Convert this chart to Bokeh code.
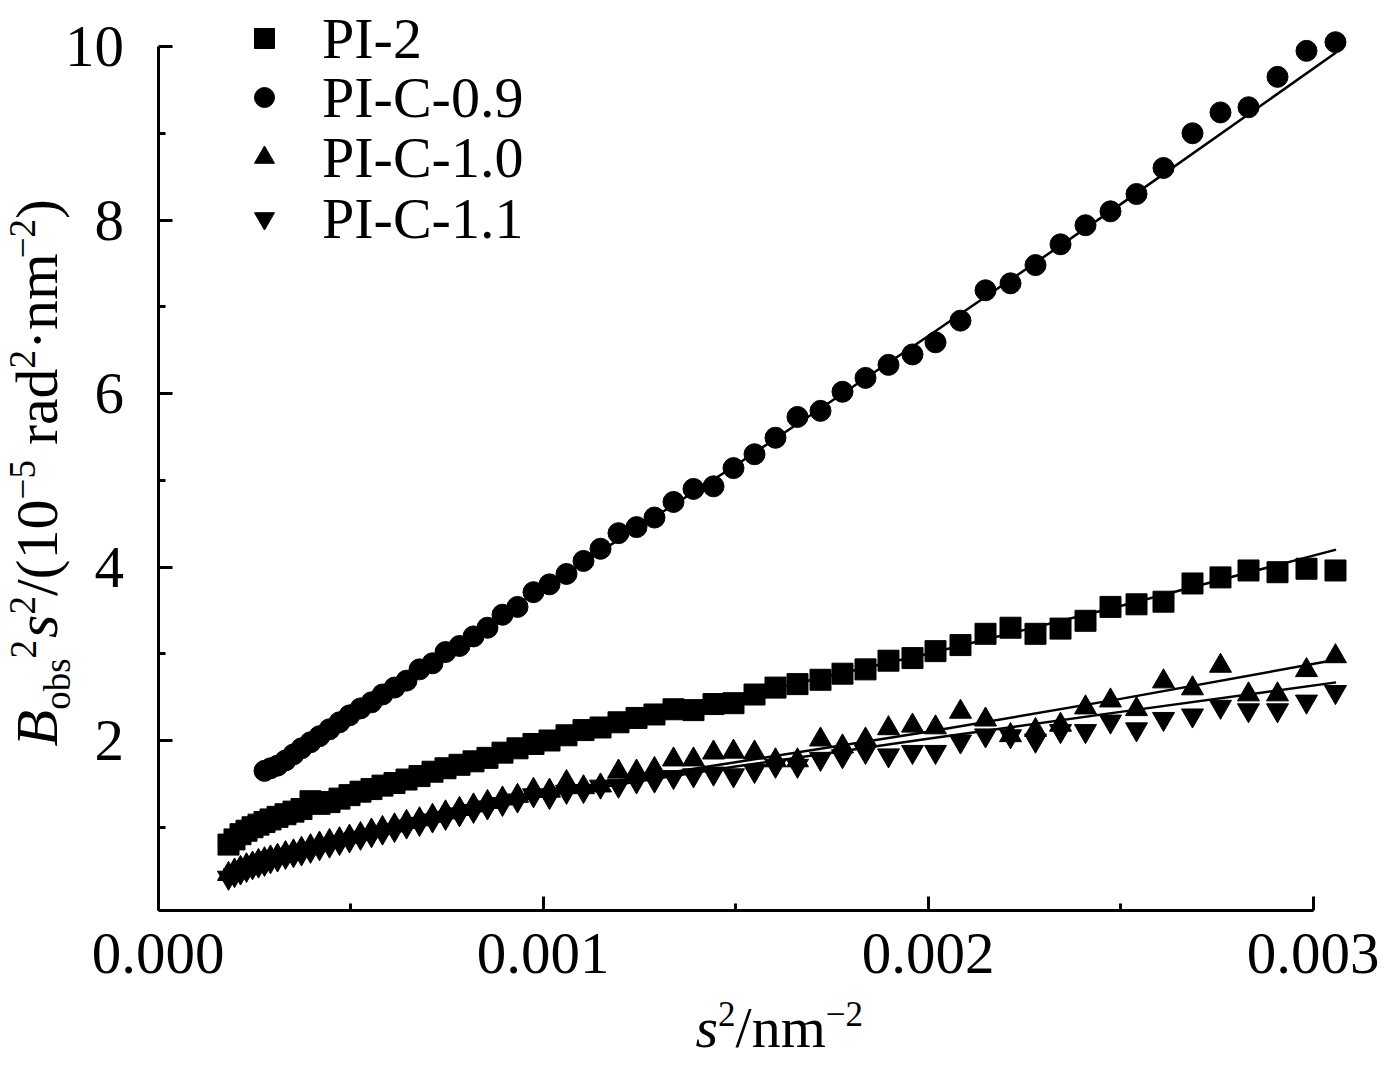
import math
from bokeh.plotting import figure
from bokeh.models import (Range1d, FixedTicker, PrintfTickFormatter, Label, Legend,
                          LegendItem, LinearAxis)
from bokeh.embed import file_html
from bokeh.resources import INLINE

# ---------------- data ----------------
s2 = [0.0001831, 0.0001987, 0.0002143, 0.0002299, 0.0002455, 0.0002610, 0.0002766, 0.0002922,
      0.0003104, 0.0003312, 0.0003519, 0.0003727, 0.0003961, 0.0004195, 0.0004455, 0.0004714,
      0.0004974, 0.0005260, 0.0005545, 0.0005831, 0.0006143, 0.0006455, 0.0006792, 0.0007130,
      0.0007468, 0.0007831, 0.0008195, 0.0008558, 0.0008948, 0.0009338, 0.0009753, 0.0010169,
      0.0010610, 0.0011052, 0.0011494, 0.0011961, 0.0012429, 0.0012896, 0.0013390, 0.0013909,
      0.0014429, 0.0014948, 0.0015494, 0.0016039, 0.0016610, 0.0017208, 0.0017779, 0.0018377,
      0.0018974, 0.0019597, 0.0020195, 0.0020844, 0.0021494, 0.0022143, 0.0022792, 0.0023442,
      0.0024091, 0.0024740, 0.0025416, 0.0026117, 0.0026870, 0.0027597, 0.0028325, 0.0029078,
      0.0029831, 0.0030584]

s2_c09 = [0.0002766, 0.0002922, 0.0003104, 0.0003312, 0.0003519, 0.0003727, 0.0003961, 0.0004195,
          0.0004455, 0.0004714, 0.0004974, 0.0005260, 0.0005545, 0.0005831, 0.0006143, 0.0006455,
          0.0006792, 0.0007130, 0.0007468, 0.0007831, 0.0008195, 0.0008558, 0.0008948, 0.0009338,
          0.0009753, 0.0010169, 0.0010610, 0.0011052, 0.0011494, 0.0011961, 0.0012429, 0.0012896,
          0.0013390, 0.0013909, 0.0014429, 0.0014948, 0.0015494, 0.0016039, 0.0016610, 0.0017208,
          0.0017779, 0.0018377, 0.0018974, 0.0019597, 0.0020195, 0.0020844, 0.0021494, 0.0022143,
          0.0022792, 0.0023442, 0.0024091, 0.0024740, 0.0025416, 0.0026117, 0.0026870, 0.0027597,
          0.0028325, 0.0029078, 0.0029831, 0.0030584]

pi_2 = [0.80, 0.86, 0.92, 0.96, 1.00, 1.03, 1.06, 1.09, 1.12, 1.15,
        1.18, 1.21, 1.30, 1.27, 1.29, 1.33, 1.37, 1.41, 1.44, 1.48,
        1.51, 1.55, 1.59, 1.64, 1.68, 1.72, 1.76, 1.80, 1.86, 1.91,
        1.96, 2.00, 2.06, 2.12, 2.15, 2.21, 2.26, 2.30, 2.36, 2.35,
        2.42, 2.43, 2.53, 2.61, 2.65, 2.70, 2.77, 2.82, 2.92, 2.95,
        3.03, 3.10, 3.23, 3.30, 3.23, 3.29, 3.38, 3.54, 3.57, 3.60,
        3.81, 3.88, 3.96, 3.94, 3.98, 3.96]

pi_c_09 = [1.65, 1.68, 1.71, 1.77, 1.84, 1.91, 1.98, 2.05, 2.13, 2.21,
           2.29, 2.37, 2.44, 2.53, 2.61, 2.69, 2.82, 2.89, 3.02, 3.09,
           3.20, 3.30, 3.45, 3.54, 3.71, 3.80, 3.92, 4.07, 4.21, 4.39,
           4.46, 4.57, 4.75, 4.90, 4.93, 5.14, 5.30, 5.49, 5.73, 5.80,
           6.02, 6.18, 6.33, 6.45, 6.59, 6.84, 7.19, 7.27, 7.48, 7.72,
           7.94, 8.10, 8.30, 8.60, 9.00, 9.24, 9.30, 9.65, 9.95, 10.05]

pi_c_10 = [0.46, 0.50, 0.53, 0.56, 0.58, 0.61, 0.63, 0.65, 0.67, 0.70,
           0.72, 0.75, 0.78, 0.81, 0.84, 0.86, 0.89, 0.92, 0.96, 0.99,
           1.02, 1.06, 1.09, 1.13, 1.17, 1.21, 1.25, 1.29, 1.33, 1.36,
           1.43, 1.42, 1.52, 1.46, 1.48, 1.64, 1.64, 1.67, 1.78, 1.78,
           1.86, 1.87, 1.86, 1.77, 1.77, 2.01, 1.93, 2.01, 2.14, 2.17,
           2.15, 2.33, 2.24, 2.06, 2.12, 2.18, 2.38, 2.46, 2.36, 2.68,
           2.60, 2.86, 2.53, 2.53, 2.81, 2.97]

pi_c_11 = [0.42, 0.45, 0.48, 0.51, 0.54, 0.56, 0.58, 0.61, 0.63, 0.66,
           0.68, 0.70, 0.73, 0.76, 0.79, 0.82, 0.85, 0.88, 0.91, 0.94,
           0.97, 1.01, 1.04, 1.08, 1.11, 1.15, 1.19, 1.23, 1.27, 1.31,
           1.37, 1.35, 1.41, 1.42, 1.47, 1.48, 1.53, 1.54, 1.58, 1.60,
           1.62, 1.60, 1.65, 1.71, 1.71, 1.79, 1.82, 1.87, 1.83, 1.87,
           1.87, 1.99, 2.06, 2.05, 2.00, 2.11, 2.11, 2.22, 2.13, 2.25,
           2.29, 2.39, 2.35, 2.35, 2.45, 2.56]

fit_x = [0.00018, 0.0003, 0.0005, 0.00075, 0.001, 0.0015, 0.002, 0.0025, 0.00306]
fit_pi_2 = [0.80, 1.10, 1.40, 1.70, 2.00, 2.50, 3.00, 3.55, 4.20]
fit_pi_c_10 = [0.45, 0.66, 0.92, 1.17, 1.40, 1.75, 2.10, 2.48, 2.93]
fit_pi_c_11 = [0.42, 0.62, 0.88, 1.13, 1.36, 1.70, 2.02, 2.33, 2.67]
fit_x_c09 = [0.00027, 0.0005, 0.001, 0.0015, 0.002, 0.0025, 0.00306]
fit_pi_c_09 = [1.64, 2.30, 3.76, 5.17, 6.66, 8.18, 9.93]

x_ticks = [0.0, 0.001, 0.002, 0.003]
x_minor = [0.0005, 0.0015, 0.0025]
y_ticks = [2, 4, 6, 8, 10]
y_minor = [1, 3, 5, 7, 9]
series_labels = ["PI-2", "PI-C-0.9", "PI-C-1.0", "PI-C-1.1"]

# ---------------- layout (frame covers the whole canvas) ----------------
FONT = "Liberation Serif"
TICK_FS = 59
LEG_FS = 58
W, H = 1390, 1064
X_ORIGIN_PX = 157.5        # pixel column of s2 = 0
X_SCALE = 385000.0         # pixels per unit of s2
Y_ORIGIN_PX = 913.5        # pixel row of value 0
Y_SCALE = 86.75            # pixels per unit of value
X0 = -X_ORIGIN_PX / X_SCALE
X1 = (W - X_ORIGIN_PX) / X_SCALE
Y1 = Y_ORIGIN_PX / Y_SCALE
Y0 = -(H - Y_ORIGIN_PX) / Y_SCALE
X_AXIS_AT = (Y_ORIGIN_PX - 910) / Y_SCALE


def px_to_x(px):
    return X0 + px / W * (X1 - X0)


def py_to_y(py):
    return Y1 - py / H * (Y1 - Y0)


p = figure(width=W, height=H, x_range=Range1d(X0, X1), y_range=Range1d(Y0, Y1),
           x_axis_location=None, y_axis_location=None,
           output_backend="svg", toolbar_location=None,
           min_border_left=0, min_border_right=0, min_border_top=0, min_border_bottom=0)
p.outline_line_color = None
p.xgrid.visible = False
p.ygrid.visible = False
p.background_fill_color = "white"
p.border_fill_color = "white"

xa = LinearAxis(fixed_location=X_AXIS_AT)
ya = LinearAxis(fixed_location=0.0)
for ax in (xa, ya):
    ax.major_tick_in = 14
    ax.major_tick_out = 0
    ax.minor_tick_in = 7
    ax.minor_tick_out = 0
    ax.axis_line_width = 3
    ax.major_tick_line_width = 3
    ax.minor_tick_line_width = 3
    ax.axis_line_color = "black"
    ax.major_tick_line_color = "black"
    ax.minor_tick_line_color = "black"
    ax.major_label_text_font = FONT
    ax.major_label_text_font_size = f"{TICK_FS}px"
    ax.major_label_text_color = "black"

xa.ticker = FixedTicker(ticks=x_ticks, minor_ticks=x_minor)
xa.formatter = PrintfTickFormatter(format="%.3f")
xa.bounds = (0, 0.003)
xa.major_label_standoff = 23
p.add_layout(xa, "below")

ya.ticker = FixedTicker(ticks=y_ticks, minor_ticks=y_minor)
ya.formatter = PrintfTickFormatter(format="%d")
ya.bounds = (X_AXIS_AT, 10)
ya.major_label_standoff = 34
p.add_layout(ya, "left")

r_pi2 = p.scatter(s2, pi_2, marker="square", size=21, color="black")
r_c09 = p.scatter(s2_c09, pi_c_09, marker="circle", size=21, color="black")
r_c10 = p.scatter(s2, pi_c_10, marker="triangle", size=22, color="black")
r_c11 = p.scatter(s2, pi_c_11, marker="inverted_triangle", size=22, color="black")

for fy in (fit_pi_2, fit_pi_c_10, fit_pi_c_11):
    p.line(fit_x, fy, line_color="black", line_width=2.5)
p.line(fit_x_c09, fit_pi_c_09, line_color="black", line_width=2.5)

# one single-row legend per series, so that each row sits where the reference has it
LEG_ROW_H = 67
leg_rows_px = [38, 97, 157, 218]
for lab, rend, row_px in zip(series_labels, [r_pi2, r_c09, r_c10, r_c11], leg_rows_px):
    lg = Legend(items=[LegendItem(label=lab, renderers=[rend])],
                location=(239, H - (row_px + LEG_ROW_H / 2)),
                glyph_width=50, glyph_height=50,
                label_standoff=33, spacing=0, padding=0, margin=0,
                border_line_color=None, background_fill_alpha=0,
                label_text_font=FONT, label_text_font_size=f"{LEG_FS}px",
                label_text_color="black")
    p.add_layout(lg)

# ---------------- rich-text axis titles ----------------
REG = {' ': 0.25, '(': 0.333, ')': 0.333, '/': 0.278, '.': 0.25, '\u00b7': 0.25,
       'a': 0.444, 'b': 0.5, 'd': 0.5, 'm': 0.778, 'n': 0.5, 'o': 0.5, 'r': 0.333,
       's': 0.389, '\u2212': 0.564, '-': 0.333}
ITA = {'B': 0.611, 's': 0.389}
MID = 0.3375   # em-box middle above the baseline


def advance(text, size, italic):
    tab = ITA if italic else REG
    return sum(tab.get(ch, 0.5) for ch in text) * size


def rich(pieces, px, py, vertical):
    axx = px_to_x(px)
    ayy = py_to_y(py)
    pos = 0.0
    for text, size, italic, shift, gap in pieces:
        pos += gap
        up = shift + MID * size
        if vertical:
            xo, yo, ang = -up, pos, math.pi / 2
        else:
            xo, yo, ang = pos, up, 0.0
        p.add_layout(Label(x=axx, y=ayy, x_offset=xo, y_offset=yo, angle=ang, text=text,
                           text_font=FONT, text_font_style="italic" if italic else "normal",
                           text_font_size=f"{size}px", text_color="black",
                           text_align="left", text_baseline="middle"))
        pos += advance(text, size, italic)


YL, YS = 60, 37
ylabel_pieces = [("B", YL, True, 0, 0),
                 ("obs", YS, False, -12, 0),
                 ("2", YS, False, 22, 0),
                 ("s", YL, True, 0, 2),
                 ("2", YS, False, 23, 0),
                 ("/(10", YL, False, 0, 0),
                 ("\u22125", YS, False, 23, 0),
                 ("rad", YL, False, 0, 15),
                 ("2", YS, False, 23, 0),
                 ("\u00b7nm", YL, False, 0, 0),
                 ("\u22122", YS, False, 23, 0),
                 (")", YL, False, 0, 0)]
rich(ylabel_pieces, 57, 746, True)

XL, XS = 58, 35
xlabel_pieces = [("s", XL, True, 0, 0),
                 ("2", XS, False, 22, 0),
                 ("/nm", XL, False, 0, 0),
                 ("\u22122", XS, False, 22, 0)]
rich(xlabel_pieces, 695, 1047, False)

open("out.html", "w").write(file_html(p, INLINE))
